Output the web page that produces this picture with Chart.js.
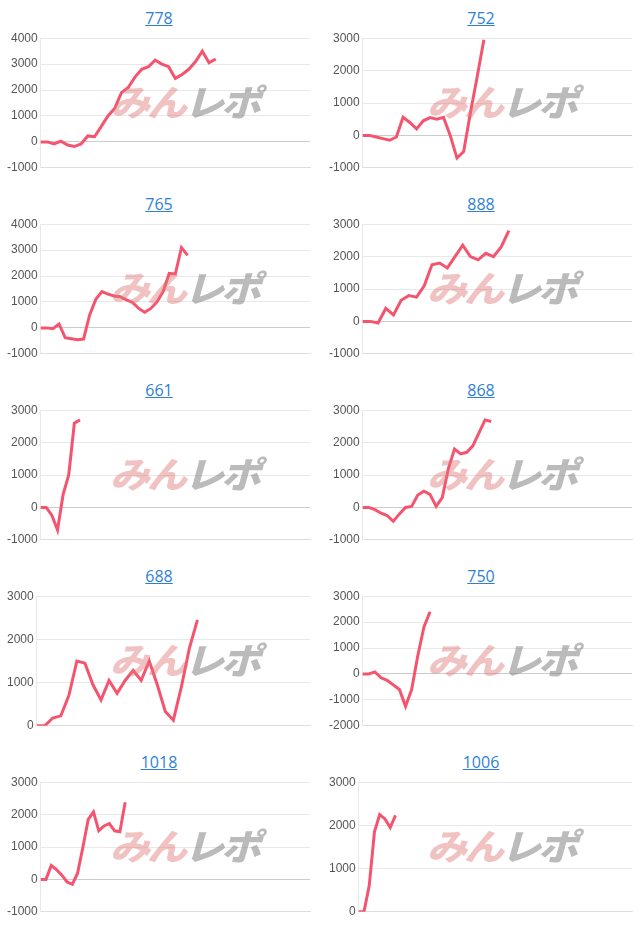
<!DOCTYPE html>
<html><head><meta charset="utf-8">
<script src="https://cdn.jsdelivr.net/npm/chart.js@4"></script>
<style>
body{margin:0;background:#fff;font-family:Roboto,"Noto Sans",sans-serif;}
#grid{position:relative;width:640px;height:931px;}
.cell{position:absolute;width:318px;height:186px;}
.title{position:absolute;left:0;right:0;top:7px;text-align:center;font-size:16px;font-family:"Open Sans",sans-serif;}
.title a{color:#2f7fd6;text-decoration:underline;}
.box{position:absolute;left:0;top:28px;width:318px;height:150px;}
.wm{position:absolute;top:44px;font:italic 900 40px "Noto Sans CJK JP";letter-spacing:-3px;white-space:nowrap;transform:scaleY(0.9);}
.wm .a{color:rgba(225,120,120,0.45);} .wm .b{color:rgba(120,120,120,0.5);}
</style></head><body><div id="grid"></div>
<script>
const titles=["778","752","765","888","661","868","688","750","1018","1006"];
const s778=[0,0,-80,30,-120,-180,-80,230,200,600,1000,1300,1900,2100,2500,2800,2900,3150,3000,2900,2450,2600,2800,3100,3500,3050,3200];
const s752=[0,0,-50,-100,-150,-50,560,400,200,450,550,500,560,0,-700,-500,700,1800,2950];
const s765=[0,0,-30,150,-380,-420,-460,-430,500,1100,1400,1300,1230,1200,1080,980,750,600,750,1000,1400,2100,2080,3100,2800];
const s888=[0,0,-50,400,200,650,800,750,1100,1750,1800,1650,2000,2350,2000,1900,2100,2000,2300,2800];
const s661=[0,0,-250,-700,400,1000,2600,2700];
const s868=[0,0,-70,-180,-250,-430,-200,0,30,380,500,400,30,300,1200,1800,1650,1700,1900,2300,2700,2650];
const s688=[0,0,180,230,700,1500,1450,950,600,1050,750,1050,1280,1050,1500,950,330,130,900,1800,2450];
const s750=[0,0,80,-150,-250,-420,-600,-1250,-600,700,1800,2400];
const s1018=[0,0,430,300,130,-80,-150,200,1000,1850,2080,1500,1650,1720,1500,1470,2380];
const s1006=[0,0,600,1850,2250,2150,1950,2230];
const series=[s778,s752,s765,s888,s661,s868,s688,s750,s1018,s1006];
const slots=[41,41,45,36,49,45,35,45,52,53];
const yMin=[-1000,-1000,-1000,-1000,-1000,-1000,0,-2000,-1000,0];
const yMax=[4000,3000,4000,3000,3000,3000,3000,3000,3000,3000];
const grid=document.getElementById('grid');
titles.forEach((t,i)=>{
  const r=Math.floor(i/2),c=i%2;
  const cell=document.createElement('div');cell.className='cell';
  cell.style.left=(c?322:0)+'px';cell.style.top=(r*186)+'px';
  cell.innerHTML=`<div class="title"><a href="#">${t}</a></div><div class="box"><canvas></canvas><div class="wm" style="left:${c?105:110}px"><span class="a">みん</span><span class="b">レポ</span></div></div>`;
  grid.appendChild(cell);
  const labels=Array.from({length:slots[i]},(_,k)=>String(k+1));
  new Chart(cell.querySelector('canvas'),{type:'line',
    data:{labels,datasets:[{data:series[i],borderColor:'#f5546f',borderWidth:3,pointRadius:0,tension:0,fill:false}]},
    options:{responsive:true,maintainAspectRatio:false,animation:false,
      layout:{padding:{left:4,right:8,top:0,bottom:0}},
      plugins:{legend:{display:false},tooltip:{enabled:false}},
      scales:{x:{display:true,ticks:{display:false},grid:{display:false},border:{color:'#ddd'}},
        y:{min:yMin[i],max:yMax[i],ticks:{stepSize:1000,color:'#555',font:{size:12},callback:v=>String(v)},
          grid:{color:ctx=>ctx.tick.value===0?'#ccc':'#e8e8e8',drawTicks:false},border:{color:'#e8e8e8'}}}}});
});
</script></body></html>
